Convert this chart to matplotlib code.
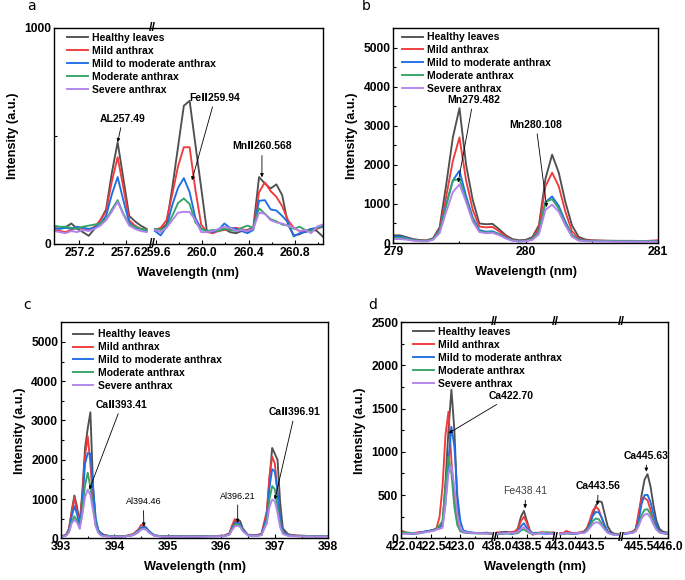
import numpy as np
import matplotlib
matplotlib.use('Agg')
import matplotlib.pyplot as plt
from matplotlib.ticker import FixedLocator, FormatStrFormatter
from matplotlib.lines import Line2D

plt.rcParams['font.family'] = ['Liberation Sans', 'DejaVu Sans']
plt.rcParams['font.weight'] = 'bold'
plt.rcParams['axes.labelweight'] = 'bold'

labels = ['Healthy leaves', 'Mild anthrax', 'Mild to moderate anthrax',
          'Moderate anthrax', 'Severe anthrax']
colors = ['#505050', '#f03a3c', '#1f6fe4', '#34a466', '#b383ec']

# ---- panel a (two x segments)
a1_wl = [256.98, 257.03, 257.08, 257.13, 257.18, 257.23, 257.28, 257.33, 257.38,
         257.43, 257.48, 257.53, 257.58, 257.63, 257.68, 257.73, 257.78]
a1_healthy = [70, 72, 78, 95, 70, 55, 38, 70, 110, 160, 330, 471, 300, 130, 105, 85, 70]
a1_mild = [65, 60, 55, 65, 75, 70, 65, 80, 110, 150, 290, 402, 260, 110, 85, 70, 65]
a1_mildmod = [75, 70, 75, 70, 80, 75, 70, 75, 95, 130, 230, 310, 200, 100, 75, 70, 60]
a1_moderate = [85, 80, 80, 75, 70, 80, 85, 90, 95, 115, 160, 203, 140, 90, 80, 70, 65]
a1_severe = [60, 55, 50, 60, 55, 65, 60, 70, 85, 110, 150, 195, 135, 85, 70, 60, 55]

a2_wl = [259.59, 259.64, 259.69, 259.74, 259.79, 259.84, 259.89, 259.94, 259.99, 260.04,
         260.09, 260.14, 260.19, 260.24, 260.29, 260.34, 260.39, 260.44, 260.49, 260.54,
         260.59, 260.64, 260.69, 260.74, 260.79, 260.84, 260.89, 260.94, 260.99, 261.04]
a2_healthy = [65, 70, 90, 260, 450, 640, 663, 460, 260, 57, 60, 65, 70, 55, 50,
              60, 65, 75, 310, 280, 257, 276, 226, 90, 40, 45, 60, 70, 60, 35]
a2_mild = [65, 75, 110, 230, 360, 448, 448, 250, 90, 55, 50, 60, 65, 70, 75,
           70, 60, 70, 240, 285, 245, 218, 175, 110, 75, 60, 55, 65, 70, 80]
a2_mildmod = [60, 40, 80, 180, 260, 305, 240, 120, 70, 60, 55, 65, 95, 75, 70,
              60, 50, 65, 200, 203, 160, 155, 130, 100, 35, 50, 55, 70, 75, 80]
a2_moderate = [70, 65, 80, 130, 190, 211, 185, 100, 70, 60, 65, 60, 70, 65, 60,
               75, 85, 75, 165, 140, 115, 105, 90, 85, 70, 80, 65, 60, 75, 85]
a2_severe = [65, 55, 75, 110, 145, 149, 148, 110, 55, 55, 60, 70, 80, 75, 60,
             65, 60, 70, 145, 140, 110, 100, 95, 85, 75, 60, 65, 50, 80, 90]

# ---- panel b
b_wl = [279.00, 279.05, 279.10, 279.15, 279.20, 279.25, 279.30, 279.35, 279.40, 279.45,
        279.50, 279.55, 279.60, 279.65, 279.70, 279.75, 279.80, 279.85, 279.90, 279.95,
        280.00, 280.05, 280.10, 280.15, 280.20, 280.25, 280.30, 280.35, 280.40, 280.45,
        280.50, 280.60, 280.70, 280.80, 280.90, 281.00]
b_healthy = [196, 196, 150, 100, 75, 68, 120, 400, 1500, 2700, 3450, 2000, 1100, 500, 480,
             490, 350, 200, 100, 70, 80, 150, 450, 1650, 2260, 1800, 1050, 450, 160, 90,
             70, 60, 55, 55, 50, 50]
b_mild = [150, 150, 130, 90, 60, 55, 110, 350, 1200, 2100, 2700, 1600, 850, 420, 400,
          410, 300, 170, 80, 50, 60, 120, 380, 1450, 1800, 1450, 800, 300, 110, 70,
          60, 55, 50, 50, 50, 70]
b_mildmod = [160, 160, 130, 80, 55, 50, 100, 320, 1000, 1600, 1850, 1200, 650, 330, 290,
             300, 230, 140, 70, 45, 55, 100, 300, 1050, 1190, 950, 550, 200, 80, 60,
             50, 45, 45, 40, 40, 40]
b_moderate = [130, 130, 110, 70, 55, 50, 95, 300, 950, 1600, 1640, 1100, 600, 300, 270,
              280, 220, 130, 65, 45, 55, 95, 280, 1050, 1120, 880, 500, 190, 75, 55,
              50, 50, 45, 45, 50, 45]
b_severe = [100, 100, 85, 60, 45, 40, 80, 250, 800, 1300, 1500, 1050, 550, 280, 250,
            260, 200, 115, 55, 35, 45, 75, 220, 850, 980, 800, 450, 160, 60, 45,
            40, 40, 35, 35, 35, 35]

# ---- panel c
c_wl = [393.00, 393.05, 393.10, 393.15, 393.20, 393.25, 393.30, 393.35, 393.40, 393.45,
        393.50, 393.55, 393.60, 393.65, 393.70, 393.75, 393.80, 393.90, 394.00, 394.20,
        394.35, 394.45, 394.50, 394.55, 394.60, 394.65, 394.75, 394.90, 395.10, 395.30,
        395.50, 395.70, 395.90, 396.05, 396.15, 396.20, 396.25, 396.30, 396.35, 396.40,
        396.50, 396.65, 396.75, 396.85, 396.90, 396.95, 397.00, 397.05, 397.10, 397.15,
        397.25, 397.40, 397.60, 397.80, 398.00]
c_healthy = [60, 70, 100, 250, 700, 1090, 800, 380, 1200, 2300,
             2800, 3210, 1300, 400, 200, 130, 90, 60, 50, 55,
             80, 160, 240, 280, 250, 160, 70, 50, 60, 50,
             55, 60, 55, 60, 100, 250, 420, 450, 440, 250,
             80, 70, 90, 600, 1500, 2300, 2150, 2000, 900, 250,
             100, 70, 60, 60, 60]
c_mild = [55, 65, 90, 230, 650, 1030, 700, 330, 1100, 2100,
          2600, 1900, 900, 350, 170, 110, 80, 55, 50, 60,
          110, 230, 340, 330, 260, 160, 70, 55, 50, 55,
          50, 55, 60, 70, 130, 330, 490, 420, 350, 200,
          90, 80, 120, 700, 1600, 2080, 1900, 1200, 500, 180,
          90, 70, 60, 55, 55]
c_mildmod = [50, 60, 80, 200, 550, 820, 620, 300, 900, 1900,
             2170, 2150, 1300, 500, 200, 110, 80, 55, 45, 50,
             90, 200, 280, 290, 260, 180, 75, 50, 45, 50,
             45, 50, 55, 60, 110, 260, 380, 400, 360, 220,
             80, 70, 100, 550, 1300, 1760, 1700, 1200, 500, 170,
             80, 60, 55, 50, 50]
c_moderate = [45, 55, 75, 170, 420, 560, 450, 260, 700, 1350,
              1670, 1300, 800, 330, 150, 80, 60, 50, 45, 50,
              85, 180, 240, 250, 220, 150, 65, 45, 45, 50,
              45, 50, 50, 55, 100, 230, 340, 360, 320, 200,
              75, 60, 90, 450, 1000, 1330, 1250, 800, 350, 130,
              70, 55, 50, 50, 50]
c_severe = [40, 50, 70, 150, 380, 470, 400, 240, 600, 1050,
            1240, 1100, 700, 300, 130, 70, 55, 45, 40, 45,
            80, 170, 220, 240, 210, 140, 60, 40, 40, 45,
            40, 45, 50, 50, 90, 210, 300, 320, 290, 180,
            70, 55, 80, 380, 800, 985, 950, 650, 280, 110,
            60, 50, 45, 45, 45]

# ---- panel d (four x segments)
d1_wl = [422.00, 422.10, 422.20, 422.30, 422.40, 422.50, 422.55, 422.60, 422.65, 422.70,
         422.75, 422.80, 422.85, 422.90, 422.95, 423.00, 423.05, 423.15, 423.30, 423.45, 423.52]
d1_healthy = [70, 60, 55, 65, 75, 90, 100, 110, 130, 180, 650, 1250, 1720, 1250, 400, 90, 70, 65, 60, 65, 55]
d1_mild = [90, 65, 60, 70, 75, 85, 95, 120, 250, 600, 1200, 1465, 900, 450, 180, 90, 70, 65, 60, 55, 50]
d1_mildmod = [60, 55, 50, 60, 80, 90, 95, 110, 130, 150, 400, 900, 1290, 1060, 500, 200, 90, 70, 60, 60, 55]
d1_moderate = [70, 65, 60, 55, 70, 85, 90, 110, 150, 200, 600, 940, 750, 360, 150, 80, 70, 60, 55, 60, 50]
d1_severe = [55, 50, 55, 60, 70, 80, 85, 100, 110, 120, 400, 750, 840, 600, 280, 110, 75, 65, 60, 55, 55]

d2_wl = [438.00, 438.05, 438.15, 438.25, 438.30, 438.35, 438.40, 438.45, 438.50, 438.55,
         438.60, 438.65, 438.75, 438.85, 438.95]
d2_healthy = [60, 70, 75, 65, 70, 120, 250, 317, 200, 90, 60, 55, 60, 65, 60]
d2_mild = [70, 55, 60, 75, 80, 110, 200, 250, 180, 80, 40, 60, 70, 60, 70]
d2_mildmod = [50, 55, 60, 50, 60, 80, 140, 174, 120, 75, 60, 65, 55, 50, 60]
d2_moderate = [45, 50, 55, 60, 55, 60, 90, 104, 80, 60, 50, 60, 65, 70, 55]
d2_severe = [50, 55, 60, 65, 60, 75, 110, 128, 100, 70, 55, 50, 60, 55, 50]

d3_wl = [443.00, 443.05, 443.10, 443.20, 443.30, 443.40, 443.45, 443.50, 443.55, 443.60,
         443.65, 443.70, 443.75, 443.80, 443.85, 443.90, 443.97]
d3_healthy = [55, 60, 70, 50, 60, 70, 100, 160, 280, 380, 430, 420, 280, 140, 80, 55, 50]
d3_mild = [60, 55, 85, 60, 65, 80, 120, 210, 320, 367, 330, 230, 140, 80, 60, 50, 45]
d3_mildmod = [50, 50, 60, 55, 55, 70, 100, 170, 260, 305, 300, 240, 150, 80, 55, 45, 40]
d3_moderate = [45, 50, 55, 50, 60, 65, 90, 140, 200, 230, 220, 170, 110, 65, 50, 45, 45]
d3_severe = [50, 55, 60, 55, 60, 60, 80, 120, 165, 186, 180, 145, 100, 65, 50, 40, 40]

d4_wl = [445.27, 445.32, 445.40, 445.45, 445.50, 445.55, 445.60, 445.65, 445.70, 445.75,
         445.80, 445.85, 445.90, 446.00]
d4_healthy = [55, 60, 70, 110, 250, 500, 680, 743, 600, 380, 200, 110, 80, 60]
d4_mild = [60, 65, 80, 100, 300, 470, 465, 440, 330, 200, 110, 70, 60, 50]
d4_mildmod = [50, 55, 65, 90, 200, 400, 500, 503, 420, 280, 150, 80, 60, 50]
d4_moderate = [60, 60, 70, 90, 160, 270, 330, 337, 280, 180, 110, 70, 60, 70]
d4_severe = [55, 60, 65, 80, 140, 230, 275, 282, 240, 160, 100, 70, 60, 55]


def broken_scale(segs):
    # piecewise linear x scale: each segment keeps its width, gaps collapse
    real, disp = [], []
    pos = 0.0
    for lo, hi in segs:
        real += [lo, hi]
        disp += [pos, pos + hi - lo]
        pos += hi - lo + 0.002
    real = [real[0] - 100] + real + [real[-1] + 100]
    disp = [disp[0] - 100] + disp + [disp[-1] + 100]
    fwd = lambda x: np.interp(x, real, disp)
    inv = lambda y: np.interp(y, disp, real)
    return fwd, inv


def draw(ax, segments):
    for seg_wl, series in segments:
        for i, ys in enumerate(series):
            ax.plot(seg_wl, ys, color=colors[i], lw=1.35, solid_joinstyle='round')


def style(ax, ymax, yticks, yminor, xticks, xminor, fmt, leg_xy):
    ax.set_ylim(0, ymax)
    ax.yaxis.set_major_locator(FixedLocator(yticks))
    ax.yaxis.set_minor_locator(FixedLocator(yminor))
    ax.xaxis.set_major_locator(FixedLocator(xticks))
    ax.xaxis.set_minor_locator(FixedLocator(xminor))
    ax.xaxis.set_major_formatter(FormatStrFormatter(fmt))
    ax.tick_params(which='both', direction='in', width=0.8, labelsize=8.7, pad=2)
    ax.tick_params(which='major', length=3)
    ax.tick_params(which='minor', length=1.8)
    for s in ax.spines.values():
        s.set_linewidth(1.0)
    ax.set_xlabel('Wavelength (nm)', fontsize=9.2, labelpad=6)
    ax.set_ylabel('Intensity (a.u.)', fontsize=9.2, labelpad=4)
    handles = [Line2D([], [], color=c, lw=1.35) for c in colors]
    ax.legend(handles, labels, loc='upper left', bbox_to_anchor=leg_xy, frameon=False,
              prop={'weight': 'bold', 'size': 7.5}, handlelength=2.0,
              handletextpad=0.4, labelspacing=0.28, borderaxespad=0)


def breaks(ax, xs):
    for xb in xs:
        for yb in (0, 1):
            ax.text(xb, yb, '//', transform=ax.get_xaxis_transform(), ha='center',
                    va='center', fontsize=9, fontweight='bold', clip_on=False)


def note(ax, txt, tip, pos, size=7.5, weight='bold', color='k'):
    ax.annotate(txt, xy=tip, xytext=pos, ha='center', va='center', fontsize=size,
                fontweight=weight, color=color,
                arrowprops=dict(arrowstyle='-|>', color='k', lw=0.6,
                                mutation_scale=5, shrinkA=1, shrinkB=0))


fig = plt.figure(figsize=(6.85, 5.8), dpi=100)

# panel a
ax = fig.add_axes([54 / 685, 1 - 244 / 580, 268.7 / 685, 216 / 580])
segs_a = [(256.98, 257.83), (259.57, 261.04)]
ax.set_xscale('function', functions=broken_scale(segs_a))
ax.set_xlim(256.98, 261.04)
draw(ax, [(a1_wl, [a1_healthy, a1_mild, a1_mildmod, a1_moderate, a1_severe]),
          (a2_wl, [a2_healthy, a2_mild, a2_mildmod, a2_moderate, a2_severe])])
style(ax, 1000, [0, 1000], [500], [257.2, 257.6, 259.6, 260.0, 260.4, 260.8],
      [257.4, 259.8, 260.2, 260.6, 261.0], '%.1f', (0.032, 0.996))
breaks(ax, [258.7])
note(ax, 'AL257.49', (257.53, 472), (257.575, 581))
note(ax, 'Fe\u2161259.94', (259.91, 295), (260.11, 677))
note(ax, 'Mn\u2161260.568', (260.515, 309), (260.515, 452))

# panel b
ax = fig.add_axes([393.3 / 685, 1 - 243 / 580, 264.7 / 685, 215 / 580])
draw(ax, [(b_wl, [b_healthy, b_mild, b_mildmod, b_moderate, b_severe])])
ax.set_xlim(279, 281)
style(ax, 5500, [0, 1000, 2000, 3000, 4000, 5000], [500, 1500, 2500, 3500, 4500],
      [279, 280, 281], [279.5, 280.5], '%d', (0.016, 1.0))
note(ax, 'Mn279.482', (279.49, 1548), (279.604, 3658))
note(ax, 'Mn280.108', (280.159, 918), (280.078, 3028))

# panel c
ax = fig.add_axes([61 / 685, 1 - 538.3 / 580, 267.3 / 685, 216 / 580])
draw(ax, [(c_wl, [c_healthy, c_mild, c_mildmod, c_moderate, c_severe])])
ax.set_xlim(393, 398)
style(ax, 5500, [0, 1000, 2000, 3000, 4000, 5000], [500, 1500, 2500, 3500, 4500],
      [393, 394, 395, 396, 397, 398], [393.5, 394.5, 395.5, 396.5, 397.5], '%d',
      (0.028, 0.987))
note(ax, 'Ca\u2161393.41', (393.53, 1243), (394.135, 3404))
note(ax, 'Al394.46', (394.55, 298), (394.54, 926), size=6.5, weight='normal')
note(ax, 'Al396.21', (396.305, 394), (396.305, 1070), size=6.5, weight='normal')
note(ax, 'Ca\u2161396.91', (397.0, 986), (397.377, 3217))

# panel d
ax = fig.add_axes([401 / 685, 1 - 538.3 / 580, 267.3 / 685, 216 / 580])
segs_d = [(422.0, 423.57), (437.95, 438.98), (442.92, 444.03), (445.21, 446.0)]
ax.set_xscale('function', functions=broken_scale(segs_d))
ax.set_xlim(422.0, 446.0)
draw(ax, [(d1_wl, [d1_healthy, d1_mild, d1_mildmod, d1_moderate, d1_severe]),
          (d2_wl, [d2_healthy, d2_mild, d2_mildmod, d2_moderate, d2_severe]),
          (d3_wl, [d3_healthy, d3_mild, d3_mildmod, d3_moderate, d3_severe]),
          (d4_wl, [d4_healthy, d4_mild, d4_mildmod, d4_moderate, d4_severe])])
style(ax, 2500, [0, 500, 1000, 1500, 2000, 2500], [250, 750, 1250, 1750, 2250],
      [422.0, 422.5, 423.0, 438.0, 438.5, 443.0, 443.5, 445.5, 446.0],
      [422.25, 422.75, 423.25, 438.25, 438.75, 443.25, 443.75, 445.75], '%.1f',
      (0.03, 0.997))
breaks(ax, [430.0, 441.0, 444.6])
note(ax, 'Ca422.70', (422.80, 1215), (438.23, 1647))
note(ax, 'Fe438.41', (438.47, 347), (438.478, 547), weight='normal', color='#444444')
note(ax, 'Ca443.56', (443.63, 385), (443.64, 605))
note(ax, 'Ca445.63', (445.63, 771), (445.63, 953))

for t, x, y in [('a', 31, 6), ('b', 366, 6), ('c', 27, 305), ('d', 373, 305)]:
    fig.text(x / 685, 1 - y / 580, t, fontsize=10, fontweight='normal',
             family='DejaVu Sans', ha='center', va='center')

fig.savefig('out.png', dpi=100)
